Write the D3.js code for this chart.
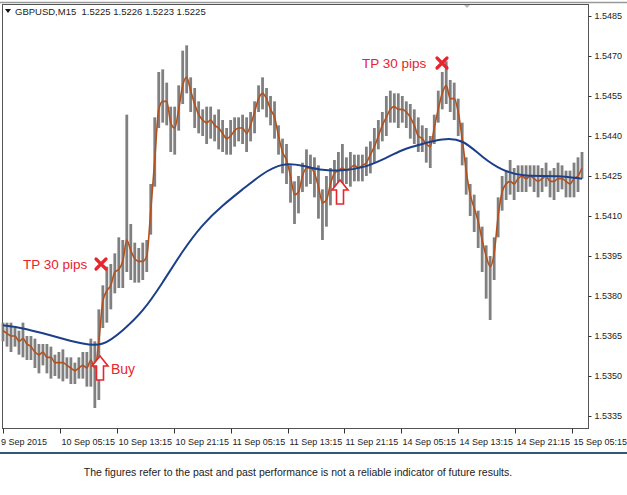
<!DOCTYPE html>
<html>
<head>
<meta charset="utf-8">
<script src="https://cdn.jsdelivr.net/npm/d3@7"></script>
<style>
  body { margin: 0; background: #fff; }
  svg { display: block; font-family: Tahoma, "Liberation Sans", Arial, sans-serif; }
</style>
</head>
<body>
<svg id="chart" width="627" height="495"></svg>
<script>
const closes = [
  1.5367,1.5366,1.5365,1.5365,1.5363,1.5364,1.5362,1.5361,1.5359,1.5358,
  1.5359,1.5357,1.5357,1.5355,1.5355,1.5355,1.5354,1.5353,1.5352,1.5353,
  1.5354,1.5353,1.5356,1.5353,1.5363,1.5378,1.5382,1.5384,1.5389,1.5390,
  1.5393,1.5401,1.5397,1.5394,1.5393,1.5393,1.5395,1.5412,1.5431,1.5450,
  1.5453,1.5453,1.5445,1.5443,1.5450,1.5459,1.5462,1.5457,1.5452,1.5448,
  1.5446,1.5445,1.5446,1.5444,1.5443,1.5441,1.5439,1.5440,1.5442,1.5443,
  1.5443,1.5441,1.5444,1.5449,1.5454,1.5456,1.5454,1.5450,1.5447,1.5440,
  1.5434,1.5431,1.5425,1.5418,1.5419,1.5425,1.5428,1.5428,1.5426,1.5421,
  1.5415,1.5416,1.5422,1.5426,1.5427,1.5428,1.5427,1.5428,1.5429,1.5428,
  1.5429,1.5430,1.5433,1.5436,1.5440,1.5444,1.5447,1.5450,1.5451,1.5450,
  1.5450,1.5449,1.5447,1.5444,1.5440,1.5439,1.5437,1.5436,1.5443,1.5450,
  1.5456,1.5459,1.5454,1.5454,1.5449,1.5439,1.5427,1.5418,1.5413,1.5408,
  1.5401,1.5395,1.5391,1.5396,1.5410,1.5419,1.5422,1.5423,1.5422,1.5424,
  1.5425,1.5424,1.5425,1.5424,1.5423,1.5424,1.5425,1.5423,1.5423,1.5424,
  1.5424,1.5423,1.5422,1.5424,1.5425,1.5428
];
// excursão da máxima / mínima em pips em relação ao fechamento
const hiPips = [
  3,4,5,3,4,6,3,4,5,4, 3,5,4,3,4,5,3,4,3,4, 5,6,8,10,12,6,9,8,7,12,
  8,47,10,6,5,7,6,10,16,14, 12,7,6,8,9,13,12,5,6,5, 4,6,5,4,7,5,4,6,5,4,
  5,6,5,4,5,6,4,5,6,4, 5,6,4,5,6,5,7,5,6,8, 5,9,6,5,7,9,5,6,4,5,
  4,6,5,7,6,5,8,7,5,6, 5,4,5,6,7,5,6,4,5,7, 8,9,7,6,5,6,5,4,5,4,
  5,4,4,6,7,6,5,8,6,5, 4,5,4,5,6,4,5,4,5,6, 5,4,5,6,7,6
];
const loPips = [
  4,5,6,4,5,7,6,5,6,7, 5,6,8,5,6,7,5,6,5,4, 5,7,10,15,22,10,12,9,8,7,
  10,12,11,9,8,7,6,9,10,7, 8,9,11,10,8,7,6,8,9,7, 6,8,7,6,8,7,6,7,6,5,
  6,7,6,8,5,6,7,6,8,7, 8,9,10,11,8,6,7,6,9,12, 14,10,8,6,7,6,5,7,6,5,
  6,5,7,6,5,6,7,5,6,7, 5,6,8,7,6,5,7,8,6,5, 6,7,5,8,9,10,9,8,9,10,
  12,16,20,10,8,7,6,5,6,5, 6,5,4,5,6,5,4,6,7,5, 4,6,5,7,6,4
];
// média móvel longa (linha azul), lida a cada 5 barras
const maIndex = d3.range(0, 146, 5);
const maValues = [
  1.5369,1.5368,1.5366,1.5364,1.5362,1.5361,1.5367,1.5374,1.5385,1.5397,
  1.5407,1.5414,1.5420,1.5426,1.5430,1.5429,1.5427,1.5427,1.5428,1.5431,
  1.5435,1.5437,1.5439,1.5439,1.5432,1.5427,1.5425,1.5425,1.5425,1.5424
];
const priceTicks = [1.5485,1.5470,1.5455,1.5440,1.5425,1.5410,1.5395,1.5380,1.5365,1.5350,1.5335];
const timeLabels = ["9 Sep 2015","10 Sep 05:15","10 Sep 13:15","10 Sep 21:15","11 Sep 05:15",
  "11 Sep 13:15","11 Sep 21:15","14 Sep 05:15","14 Sep 13:15","14 Sep 21:15","15 Sep 05:15"];
const timeLabelBars = [0,14.25,28.5,42.75,57,71.25,85.5,99.75,114,128.25,142.5];

const svg = d3.select("#chart");
const plotLeft = 2, plotRight = 588, plotTop = 4, plotBottom = 428;

// escalas
const x = d3.scaleLinear().domain([0, 145]).range([plotLeft + 1, 582]);
const y = d3.scaleLinear().domain([1.5335, 1.5485]).range([416, 16]);
const pip = 0.0001;

// borda superior da janela
svg.append("line").attr("x1", 0).attr("x2", 627).attr("y1", 2.5).attr("y2", 2.5)
  .attr("stroke", "#999").attr("stroke-width", 1.5);
svg.append("path").attr("d", "M463,4 L471,4 L467,8 Z").attr("fill", "#bbb");

// moldura
svg.append("rect").attr("x", plotLeft + 0.5).attr("y", plotTop + 0.5)
  .attr("width", plotRight - plotLeft).attr("height", plotBottom - plotTop)
  .attr("fill", "none").attr("stroke", "#555").attr("stroke-width", 1);

// eixo de preços
const yAxis = d3.axisRight(y).tickValues(priceTicks).tickFormat(d3.format(".4f")).tickSize(3).tickPadding(3);
const gy = svg.append("g").attr("transform", `translate(${plotRight + 0.5},0)`).call(yAxis);
gy.select(".domain").remove();
gy.selectAll("text").attr("font-size", 9).attr("font-family", "'Liberation Sans', Arial, sans-serif").attr("fill", "#222");
gy.selectAll("line").attr("stroke", "#333");

// eixo de tempo
const gx = svg.append("g").attr("transform", `translate(0,${plotBottom + 0.5})`);
timeLabelBars.forEach((b, i) => {
  const px = Math.round(x(b)) + 0.5;
  gx.append("line").attr("x1", px).attr("x2", px).attr("y1", 0).attr("y2", 5).attr("stroke", "#333");
  gx.append("text").attr("x", i === 0 ? 1 : px + 1).attr("y", 16)
    .attr("font-size", 9).attr("font-family", "'Liberation Sans', Arial, sans-serif")
    .attr("fill", "#222").text(timeLabels[i]);
});

// barras (máxima-mínima)
svg.append("g").selectAll("line").data(closes).join("line")
  .attr("x1", (d, i) => x(i)).attr("x2", (d, i) => x(i))
  .attr("y1", (d, i) => y(d + hiPips[i] * pip))
  .attr("y2", (d, i) => y(d - loPips[i] * pip))
  .attr("stroke", "#808080").attr("stroke-width", 2.8);

// média curta (laranja)
const line = d3.line().x(d => x(d[0])).y(d => y(d[1])).curve(d3.curveMonotoneX);
svg.append("path").datum(closes.map((c, i) => [i, c]))
  .attr("d", line).attr("fill", "none").attr("stroke", "#b4501c").attr("stroke-width", 1.6);

// média longa (azul)
svg.append("path").datum(maIndex.map((b, i) => [b, maValues[i]]))
  .attr("d", line.curve(d3.curveBasis)).attr("fill", "none")
  .attr("stroke", "#1c3f8c").attr("stroke-width", 2);

// anotações
const red = "#e8242c";
function tp(tx, ty, mx) {
  svg.append("text").attr("x", tx).attr("y", ty + 5).attr("font-family", "Arial, 'Liberation Sans', sans-serif")
    .attr("font-size", 13.5).attr("fill", red).text("TP 30 pips");
  svg.append("path").attr("d", `M${mx-5},${ty-5} L${mx+5},${ty+5} M${mx+5},${ty-5} L${mx-5},${ty+5}`)
    .attr("stroke", red).attr("stroke-width", 3.2).attr("stroke-linecap", "round");
}
tp(23, 264, 101);
tp(362, 63, 442);

function arrow(cx, ty) {
  const d = `M${cx},${ty} L${cx+8},${ty+10} L${cx+3.5},${ty+10} L${cx+3.5},${ty+24} L${cx-3.5},${ty+24} L${cx-3.5},${ty+10} L${cx-8},${ty+10} Z`;
  svg.append("path").attr("d", d).attr("fill", "#fff").attr("stroke", red).attr("stroke-width", 1.6);
}
arrow(100, 356);
arrow(340, 180);
svg.append("text").attr("x", 111).attr("y", 374).attr("font-family", "Arial, 'Liberation Sans', sans-serif")
  .attr("font-size", 14).attr("fill", red).text("Buy");

// cabeçalho
svg.append("path").attr("d", "M5,9 L11,9 L8,13 Z").attr("fill", "#111");
svg.append("text").attr("x", 15).attr("y", 15).attr("font-size", 9.5).attr("fill", "#222")
  .attr("xml:space", "preserve").text("GBPUSD,M15  1.5225 1.5226 1.5223 1.5225");

// separador e rodapé
svg.append("line").attr("x1", 0).attr("x2", 627).attr("y1", 453).attr("y2", 453)
  .attr("stroke", "#2e5a73").attr("stroke-width", 2);
svg.append("text").attr("x", 298).attr("y", 476).attr("text-anchor", "middle")
  .attr("font-size", 10.5).attr("fill", "#222")
  .text("The figures refer to the past and past performance is not a reliable indicator of future results.");
</script>
</body>
</html>
